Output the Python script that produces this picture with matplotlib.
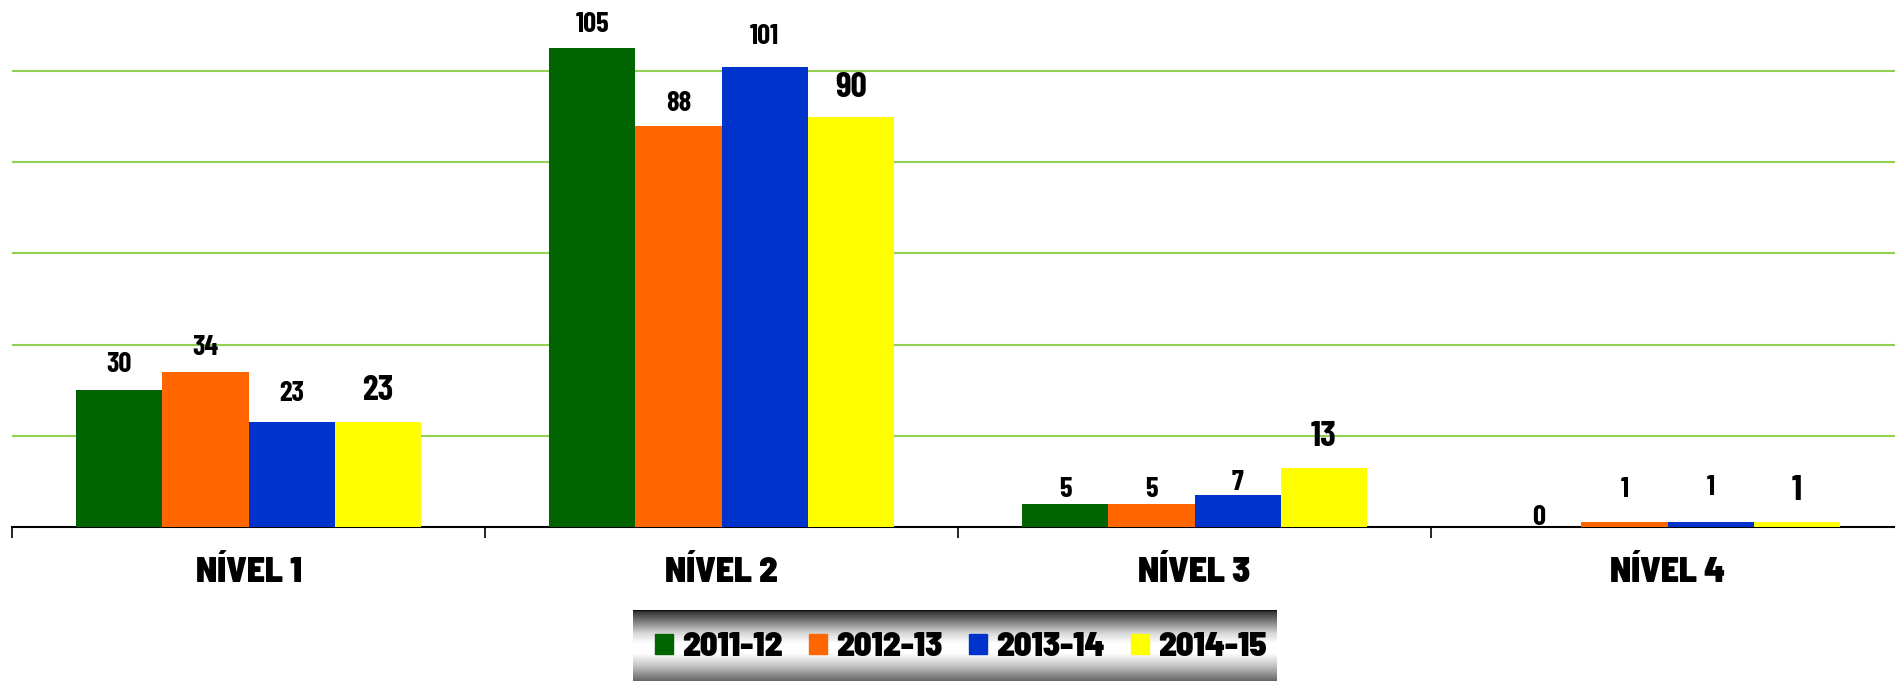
import numpy as np
import matplotlib
matplotlib.use('Agg')
import matplotlib.pyplot as plt

categories = ['NÍVEL 1', 'NÍVEL 2', 'NÍVEL 3', 'NÍVEL 4']
series = ['2011-12', '2012-13', '2013-14', '2014-15']
values = {
    '2011-12': [30, 105, 5, 0],
    '2012-13': [34, 88, 5, 1],
    '2013-14': [23, 101, 7, 1],
    '2014-15': [23, 90, 13, 1],
}
colors = ['#006400', '#FF6600', '#0033CC', '#FFFF00']
# label baseline offsets above the bar top (points), labels were hand placed
label_dy = [
    [13, 12, 5, 1.5],
    [12, 11, 5, 18],
    [15.5, 16, 4, 19.5],
    [16, 14.5, 16, 16],
]

num_font = ['Barlow Condensed', 'DejaVu Sans']
head_font = ['Barlow Semi Condensed', 'Barlow Condensed', 'DejaVu Sans']
plt.rcParams['font.family'] = num_font

W, H = 1895, 681
fig = plt.figure(figsize=(W / 100, H / 100), dpi=100)
ax = fig.add_axes([12 / W, (H - 527) / H, 1892 / W, 527 / H])

x = np.arange(len(categories))
bw = 0.182
for i, s in enumerate(series):
    pos = x + (i - 1.5) * bw
    bars = ax.bar(pos, values[s], width=bw, color=colors[i], zorder=3)
    big = (i == 3)
    for b, v, dy in zip(bars, values[s], label_dy[i]):
        ax.annotate(str(v), (b.get_x() + b.get_width() / 2, v),
                    xytext=(0, dy), textcoords='offset points',
                    ha='center', va='baseline', fontweight='bold',
                    fontsize=25.7 if big else 20.6, zorder=5)

ax.set_xlim(-0.5, 3.5)
ax.set_ylim(0, 115.6)
ax.set_yticks([20, 40, 60, 80, 100])
ax.yaxis.grid(True, color='#92D050', lw=1.5, zorder=0)
ax.tick_params(axis='y', length=0, labelleft=False)
for sp in ['left', 'right', 'top']:
    ax.spines[sp].set_visible(False)
ax.spines['bottom'].set_linewidth(1.5)
ax.set_xticks(x)
ax.set_xticklabels(categories, fontsize=25.7, fontweight='black', family=head_font)
ax.tick_params(axis='x', which='major', length=0, pad=21)
ax.set_xticks(np.arange(-0.5, 4.0, 1.0), minor=True)
ax.tick_params(axis='x', which='minor', length=8, width=1.2, direction='out')

# legend with grey gradient background
gax = fig.add_axes([633 / W, 0, 644 / W, 71 / H])
t = np.linspace(0, 1, 200)
g = np.interp(t, [0, 0.02, 0.14, 0.33, 0.47, 0.61, 0.8, 1.0],
              [0.0, 0.2, 0.45, 0.85, 1.0, 1.0, 0.75, 0.4])
gax.imshow(g[:, None], aspect='auto', cmap='gray', vmin=0, vmax=1,
           extent=[0, 1, 0, 1])
gax.set_axis_off()

handles = [plt.Rectangle((0, 0), 1, 1, color=c) for c in colors]
leg = fig.legend(handles, series, loc='center', bbox_to_anchor=(961 / W, 1 - 647 / H),
                 ncol=4, frameon=False,
                 prop={'family': head_font, 'weight': 'black', 'size': 24.7},
                 handlelength=0.52, handleheight=0.52, handletextpad=0.26,
                 columnspacing=0.78, borderpad=0)
leg.set_zorder(10)

fig.savefig('out.png', dpi=100)
